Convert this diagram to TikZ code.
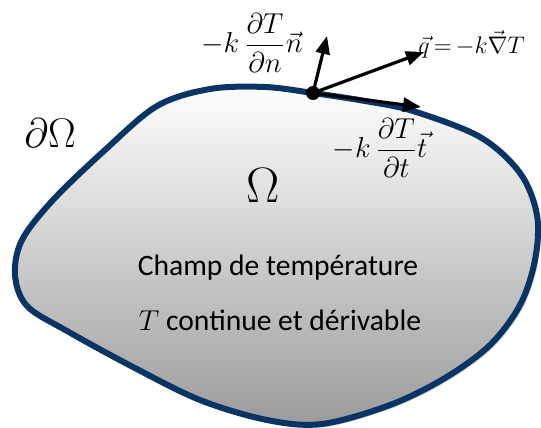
\documentclass[tikz,border=0pt]{standalone}
\usepackage{amsmath}
\usepackage{fontspec}
\setsansfont{Carlito}
\usepackage{xcolor}
\definecolor{bordblue}{RGB}{10,52,100}
\definecolor{fillgray}{RGB}{155,155,155}
\usetikzlibrary{arrows.meta, positioning, shadows}

\tikzset{
  vecarrow/.style={line width=1.6pt, -{Triangle[length=9pt,width=7pt]}},
  mathlbl/.style={font=\fontsize{14.5}{17}\selectfont, inner sep=1pt},
  champtxt/.style={font=\sffamily\fontsize{14.8}{17}\selectfont},
}

\newcommand{\blobpts}{(313,93) (365,101) (413,111) (480,137) (520,173) (537,215)
  (535,260) (520,305) (490,345) (445,378) (390,405) (322,424) (267,420)
  (200,400) (133,367) (67,331) (27,306) (15,275) (22,240) (53,200)
  (105,150) (157,106) (210,89) (265,87)}

\begin{document}
\begin{tikzpicture}[x=0.5pt, y=-0.5pt]
  \useasboundingbox (0,0) rectangle (541,428);

  % domain Omega
  \fill[gray!35, xshift=1.5pt, yshift=-1.5pt] plot[smooth cycle, tension=0.55]
    coordinates {\blobpts};
  \shade[top color=white, bottom color=fillgray, draw=bordblue, line width=3pt]
    plot[smooth cycle, tension=0.55] coordinates {\blobpts};

  % point on the boundary
  \node[circle, fill=black, inner sep=0pt, minimum size=7pt] (P) at (313,93) {};
  \coordinate (nend) at (327,36);
  \coordinate (qend) at (424,52);
  \coordinate (tend) at (421,107);
  \draw[vecarrow] (P.center) -- (nend);
  \draw[vecarrow] (P.center) -- (qend);
  \draw[vecarrow] (P.center) -- (tend);

  % labels
  \node[mathlbl] (nlbl) at (252,43) {$-k\,\dfrac{\partial T}{\partial n}\vec{n}$};
  \node[mathlbl, font=\fontsize{13}{15}\selectfont, anchor=west] (qlbl) at (416,44)
    {$\vec{q}\,{=}\,{-k}\vec{\nabla}T$};
  \node[mathlbl] (tlbl) at (380,148) {$-k\,\dfrac{\partial T}{\partial t}\vec{t}$};
  \node[font=\fontsize{22}{24}\selectfont] (bord) at (50,133) {$\partial\Omega$};
  \node[font=\fontsize{24}{26}\selectfont] (omega) at (263,186) {$\Omega$};
  \node[champtxt] (champ) at (278,268) {Champ de température};
  \node[champtxt] (cont) at (280,320) {$T$ continue et dérivable};
\end{tikzpicture}
\end{document}
